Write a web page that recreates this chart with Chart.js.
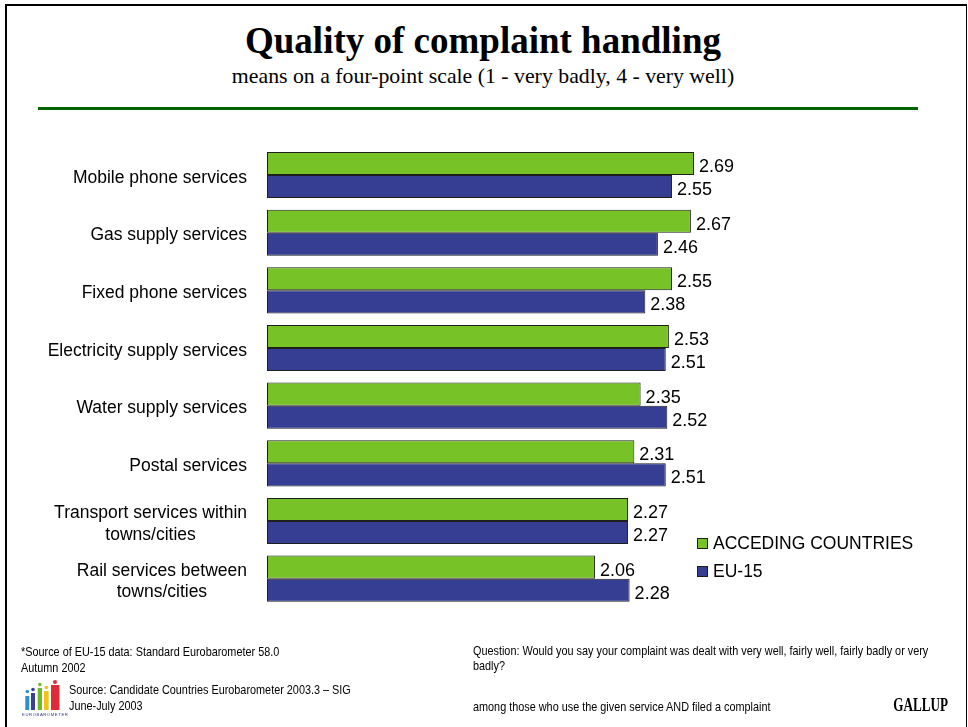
<!DOCTYPE html>
<html lang="en">
<head>
  <meta charset="UTF-8" />
  <title>Quality of complaint handling</title>
  <script src="https://cdn.jsdelivr.net/npm/chart.js"></script>
  <style>
    html, body { margin: 0; padding: 0; background: #fff; width: 968px; height: 727px; overflow: hidden; }
    body { position: relative; font-family: 'Liberation Sans', Arial, sans-serif; color: #000; }
    .frame { position: absolute; left: 5px; top: 4px; width: 959px; height: 800px; border-left: 2px solid #000; border-top: 2px solid #000; border-right: 1px solid #000; }
    .title { position: absolute; left: 0; width: 966px; top: 22px; text-align: center; font: bold 37px/37px 'Liberation Serif', 'Times New Roman', serif; }
    .subtitle { position: absolute; left: 0; width: 966px; top: 64.6px; text-align: center; font: 21.8px/22px 'Liberation Serif', 'Times New Roman', serif; }
    .rule { position: absolute; left: 38px; width: 880px; top: 107px; height: 3px; background: #006400; }
    #chart { position: absolute; left: 0; top: 0; }
    .note { position: absolute; font-size: 13px; white-space: nowrap; transform: scaleX(0.835); transform-origin: left top; }
    .gallup { position: absolute; right: 20px; top: 696px; font: bold 18px/18px 'Liberation Serif', 'Times New Roman', serif; transform: scaleX(0.73); transform-origin: right top; }
    .logo { position: absolute; left: 22px; top: 678px; }
  </style>
</head>
<body>
  <div class="frame"></div>
  <div class="title">Quality of complaint handling</div>
  <div class="subtitle">means on a four-point scale (1 - very badly, 4 - very well)</div>
  <div class="rule"></div>
  <canvas id="chart" width="968" height="727"></canvas>

  <div class="note" style="left:21px; top:644px; line-height:16.3px;">*Source of EU-15 data: Standard Eurobarometer 58.0<br>Autumn 2002</div>
  <div class="note" style="left:69px; top:681.5px; line-height:16px;">Source: Candidate Countries Eurobarometer 2003.3 – SIG<br>June-July 2003</div>
  <div class="note" style="left:473px; top:642.6px; line-height:15.7px;">Question: Would you say your complaint was dealt with very well, fairly well, fairly badly or very<br>badly?</div>
  <div class="note" style="left:473px; top:699.2px; line-height:16px;">among those who use the given service AND filed a complaint</div>
  <div class="gallup">GALLUP</div>

  <svg class="logo" width="46" height="40" viewBox="0 0 46 40">
    <circle cx="5.3" cy="13.5" r="1.8" fill="#2a8fd6"/>
    <rect x="3.3" y="18" width="4" height="14" fill="#2a8fd6"/>
    <circle cx="11" cy="11.5" r="1.8" fill="#3b3f9a"/>
    <rect x="9" y="15" width="4" height="17" fill="#3b3f9a"/>
    <circle cx="17.8" cy="6.5" r="1.8" fill="#6dbb2a"/>
    <rect x="15.7" y="10" width="4.3" height="22" fill="#6dbb2a"/>
    <circle cx="24.3" cy="9.5" r="1.8" fill="#f2c21b"/>
    <rect x="22" y="13" width="4.7" height="19" fill="#f2c21b"/>
    <circle cx="33" cy="4" r="2" fill="#e02a3a"/>
    <rect x="29" y="7" width="8.5" height="25" fill="#e02a3a"/>
    <text x="0" y="38" font-family="Liberation Sans, Arial, sans-serif" font-size="4.2" fill="#2d3a8c" letter-spacing="0.6">EUROBAROMETER</text>
  </svg>

  <script>
    const categories = [
      'Mobile phone services',
      'Gas supply services',
      'Fixed phone services',
      'Electricity supply services',
      'Water supply services',
      'Postal services',
      ['Transport services within', 'towns/cities'],
      ['Rail services between', 'towns/cities']
    ];
    const seriesNames = ['ACCEDING COUNTRIES', 'EU-15'];
    const acceding = [2.69, 2.67, 2.55, 2.53, 2.35, 2.31, 2.27, 2.06];
    const eu15 = [2.55, 2.46, 2.38, 2.51, 2.52, 2.51, 2.27, 2.28];

    const X_MIN = -0.028;
    const X_MAX = 3.5;
    const GREEN = '#77c226';
    const BLUE = '#353e93';
    const EDGE = '#1e1e1e';
    const SANS = "'Liberation Sans', Arial, sans-serif";

    // category names to the left of the bars, multi-line names centred within their block
    const categoryLabels = {
      id: 'categoryLabels',
      afterDraw(chart) {
        const ctx = chart.ctx;
        const y = chart.scales.y;
        const right = chart.chartArea.left - 20;
        const lineH = 21.7;
        ctx.save();
        ctx.font = '17.5px ' + SANS;
        ctx.fillStyle = '#000';
        ctx.textBaseline = 'alphabetic';
        chart.data.labels.forEach((lab, i) => {
          const lines = Array.isArray(lab) ? lab : [lab];
          const cy = y.getPixelForValue(i);
          const w = Math.max(...lines.map(l => ctx.measureText(l).width));
          const first = cy + 7.7 - (lines.length - 1) * lineH / 2;
          lines.forEach((l, k) => {
            if (lines.length > 1) {
              ctx.textAlign = 'center';
              ctx.fillText(l, right - w / 2, first + k * lineH);
            } else {
              ctx.textAlign = 'right';
              ctx.fillText(l, right, first);
            }
          });
        });
        ctx.restore();
      }
    };

    // value printed just past the end of each bar
    const valueLabels = {
      id: 'valueLabels',
      afterDatasetsDraw(chart) {
        const ctx = chart.ctx;
        ctx.save();
        ctx.font = '18px ' + SANS;
        ctx.fillStyle = '#000';
        ctx.textAlign = 'left';
        ctx.textBaseline = 'alphabetic';
        chart.data.datasets.forEach((ds, di) => {
          chart.getDatasetMeta(di).data.forEach((bar, i) => {
            ctx.fillText(ds.data[i].toFixed(2), bar.x + 5, bar.y + 8.5);
          });
        });
        ctx.restore();
      }
    };

    // legend block sitting inside the plot, lower right
    const boxLegend = {
      id: 'boxLegend',
      afterDraw(chart) {
        const ctx = chart.ctx;
        const lx = 697.5, ly = 538.5, step = 28;
        ctx.save();
        ctx.font = '17.5px ' + SANS;
        ctx.textAlign = 'left';
        ctx.textBaseline = 'alphabetic';
        chart.data.datasets.forEach((ds, i) => {
          const top = ly + i * step;
          ctx.fillStyle = ds.backgroundColor;
          ctx.fillRect(lx, top, 10, 10);
          ctx.strokeStyle = EDGE;
          ctx.lineWidth = 1;
          ctx.strokeRect(lx, top, 10, 10);
          ctx.fillStyle = '#000';
          ctx.fillText(ds.label, lx + 15.5, top + 10.7);
        });
        ctx.restore();
      }
    };

    new Chart(document.getElementById('chart'), {
      type: 'bar',
      data: {
        labels: categories,
        datasets: [
          { label: seriesNames[0], data: acceding, backgroundColor: GREEN },
          { label: seriesNames[1], data: eu15, backgroundColor: BLUE }
        ]
      },
      options: {
        indexAxis: 'y',
        responsive: false,
        animation: false,
        events: [],
        layout: { padding: { left: 267, right: 146.7, top: 146.2, bottom: 119.5 } },
        datasets: {
          bar: {
            base: X_MIN,
            categoryPercentage: 0.8,
            barPercentage: 1.0,
            borderWidth: 1,
            borderColor: EDGE,
            borderSkipped: false
          }
        },
        scales: {
          x: { type: 'linear', min: X_MIN, max: X_MAX, display: false },
          y: { display: false }
        },
        plugins: {
          legend: { display: false },
          tooltip: { enabled: false }
        }
      },
      plugins: [categoryLabels, valueLabels, boxLegend]
    });
  </script>
</body>
</html>
